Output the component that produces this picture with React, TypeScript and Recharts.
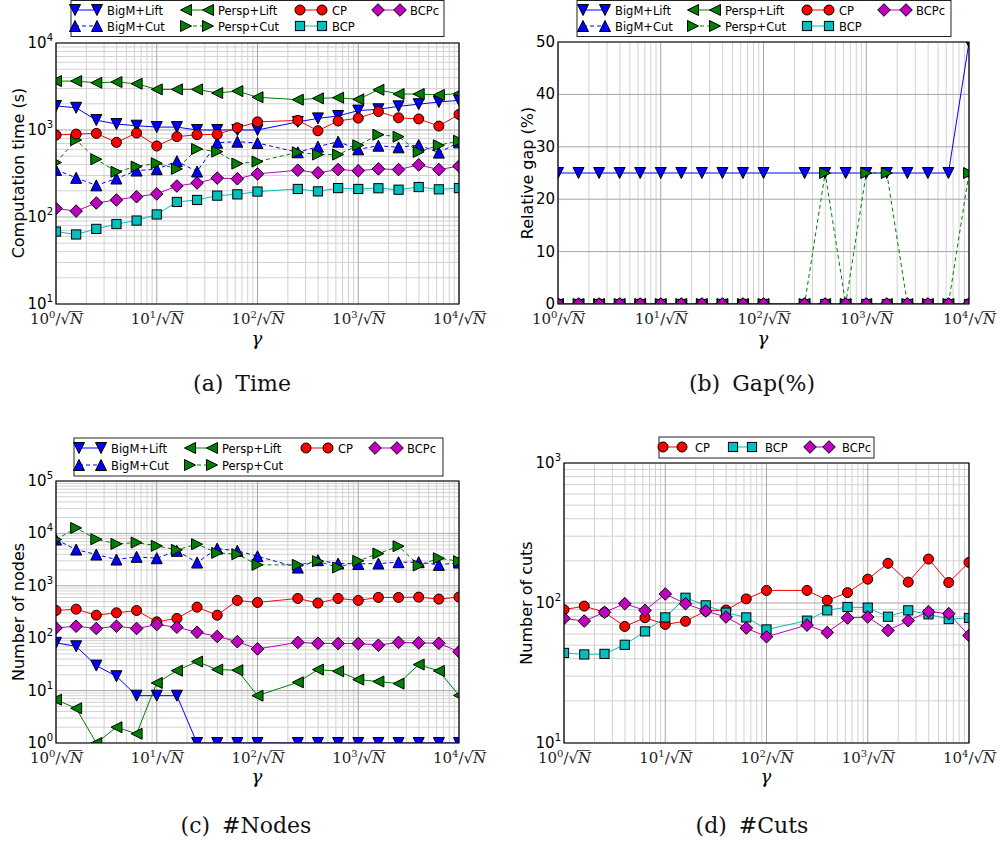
import React from "react";
import { LineChart, Line, XAxis, YAxis, ReferenceLine, ReferenceArea } from "recharts";

// gamma = 10^k / sqrt(N), k
const gammaExp = [0, 0.2, 0.4, 0.6, 0.8, 1.0, 1.2, 1.4, 1.6, 1.8, 2.0, 2.4, 2.6, 2.8, 3.0, 3.2, 3.4, 3.6, 3.8, 4.0];
const decadeTicks = [1, 10, 100, 1000, 10000];

// (a) computation time (s)
const timeBigMLift = [1890, 1800, 1300, 1170, 1120, 1080, 1080, 1000, 1000, 1000, 1000, 1240, 1360, 1450, 1670, 1730, 1870, 1980, 2100, 2190];
const timeBigMCut = [348, 282, 231, 277, 342, 354, 438, 333, 714, 734, 709, 554, 644, 734, 600, 660, 632, 673, 550, 721];
const timePerspLift = [3650, 3650, 3490, 3560, 3400, 2930, 2930, 2930, 2660, 2800, 2380, 2230, 2310, 2350, 2250, 2900, 2590, 2590, 2530, 2620];
const timePerspCut = [423, 767, 461, 331, 380, 415, 357, 605, 564, 411, 434, 554, 522, 522, 667, 883, 838, 560, 667, 753];
const timeCP = [875, 898, 914, 721, 922, 655, 838, 883, 890, 1060, 1240, 1290, 980, 1270, 1370, 1630, 1380, 1340, 1110, 1510];
const timeBCP = [68, 63, 73, 83, 91, 107, 149, 157, 176, 182, 196, 210, 197, 215, 210, 214, 206, 221, 208, 215];
const timeBCPc = [125, 117, 145, 157, 171, 184, 227, 246, 280, 275, 313, 345, 322, 351, 340, 357, 351, 397, 351, 384];

// (b) relative gap (%)
const gapBigMLift = [25, 25, 25, 25, 25, 25, 25, 25, 25, 25, 25, 25, 25, 25, 25, 25, 25, 25, 25, 50];
const gapBigMCut = [0, 0, 0, 0, 0, 0.1, 0.1, 0.1, 0.1, 0.1, 0.1, 0.1, 0.1, 0.1, 0.1, 0.1, 0.1, 0.1, 0.1, 0.1];
const gapPerspLift = [0, 0, 0, 0, 0, 0, 0, 0, 0, 0, 0, 0, 0, 0, 0, 0, 0, 0, 0, 0];
const gapPerspCut = [0, 0, 0, 0, 0, 0, 0, 0, 0, 0, 0, 0, 25, 0, 25, 25, 0, 0, 0, 25];
const gapCP = [0, 0, 0, 0, 0, 0, 0, 0, 0, 0, 0, 0, 0, 0, 0, 0, 0, 0, 0, 0];
const gapBCP = [0, 0, 0, 0, 0, 0, 0, 0, 0, 0, 0, 0, 0, 0, 0, 0, 0, 0, 0, 0];
const gapBCPc = [0, 0, 0, 0, 0, 0, 0, 0, 0, 0, 0, 0, 0, 0, 0, 0, 0, 0, 0, 0];

// (c) number of nodes
const nodesBigMLift = [81.5, 70, 30, 18.8, 8, 8, 8, 1, 1, 1, 1, 1, 1, 1, 1, 1, 1, 1, 1, 1];
const nodesBigMCut = [7630, 4920, 3950, 3170, 3570, 3360, 4640, 2780, 5140, 4640, 3670, 2230, 3080, 2660, 2620, 2660, 2820, 2820, 2510, 2780];
const nodesPerspLift = [6.7, 4.6, 1, 2.0, 1.5, 14, 24, 35.8, 25.2, 24.5, 8, 14.4, 25.2, 23.4, 16.2, 14.9, 13.6, 31.4, 23.7, 8.1];
const nodesPerspCut = [7630, 12700, 7740, 6310, 6690, 5780, 4850, 6220, 4250, 4010, 2510, 2510, 2950, 2230, 2990, 4130, 5700, 2440, 3360, 2950];
const nodesCP = [338, 358, 275, 305, 338, 205, 238, 391, 275, 525, 481, 574, 468, 574, 526, 600, 600, 608, 557, 608];
const nodesBCPc = [157, 169, 153, 169, 153, 182, 162, 130, 108, 86, 62.5, 83, 80, 79, 79, 73.5, 83, 81.5, 80, 55];

// (d) number of cuts
const cutsCP = [89.6, 95, 85.8, 68, 78.5, 70.3, 74, 87.7, 89, 107, 123, 123, 104.5, 118.6, 148, 192, 141, 206, 140, 195];
const cutsBCP = [44, 42.9, 43.3, 50.3, 62.7, 78.9, 109, 96.2, 85.3, 78.9, 64.7, 74.8, 88.6, 93.6, 92.6, 79.8, 88.6, 83, 76.8, 78.2];
const cutsBCPc = [77.6, 74.3, 85.8, 98.9, 88.6, 116, 98.9, 87.7, 79.4, 66.2, 57.4, 69.5, 61.6, 78.2, 79.4, 63.7, 74.8, 86.7, 83.9, 58.6];

const SERIES: Record<string, { name: string; color: string; marker: string; dash?: string }> = {
  bigMLift: { name: "BigM+Lift", color: "#0000ff", marker: "tdown" },
  bigMCut: { name: "BigM+Cut", color: "#0000ff", marker: "tup", dash: "4 3" },
  perspLift: { name: "Persp+Lift", color: "#008000", marker: "tleft" },
  perspCut: { name: "Persp+Cut", color: "#008000", marker: "tright", dash: "4 3" },
  cp: { name: "CP", color: "#ff0000", marker: "circle" },
  bcp: { name: "BCP", color: "#00bfbf", marker: "square" },
  bcpc: { name: "BCPc", color: "#bf00bf", marker: "diamond" },
};

const MAJOR = "#a6a6a6";
const MINOR = "#d2d2d2";
const SANS = "DejaVu Sans, sans-serif";
const SERIF = "DejaVu Serif, serif";

function buildRows(cols: Record<string, number[]>) {
  return gammaExp.map((e, i) => {
    const row: Record<string, number> = { x: Math.pow(10, e) };
    for (const k of Object.keys(cols)) row[k] = cols[k][i];
    return row;
  });
}

function minorTicks(lo: number, hi: number) {
  const out: number[] = [];
  for (let d = lo; d < hi; d *= 10) for (let m = 2; m <= 9; m++) out.push(d * m);
  return out;
}

function Marker({ shape, cx, cy, fill }: { shape: string; cx: number; cy: number; fill: string }) {
  const s = { fill, stroke: "#000", strokeWidth: 1 };
  const h = 5.5;
  switch (shape) {
    case "circle":
      return <circle cx={cx} cy={cy} r={5} {...s} />;
    case "square":
      return <rect x={cx - 4.6} y={cy - 4.6} width={9.2} height={9.2} {...s} />;
    case "diamond":
      return <path d={`M${cx},${cy - 6.3}L${cx + 6.3},${cy}L${cx},${cy + 6.3}L${cx - 6.3},${cy}Z`} {...s} />;
    case "tdown":
      return <path d={`M${cx - h},${cy - h}L${cx + h},${cy - h}L${cx},${cy + h}Z`} {...s} />;
    case "tup":
      return <path d={`M${cx - h},${cy + h}L${cx + h},${cy + h}L${cx},${cy - h}Z`} {...s} />;
    case "tleft":
      return <path d={`M${cx + h},${cy - h}L${cx + h},${cy + h}L${cx - h},${cy}Z`} {...s} />;
    default:
      return <path d={`M${cx - h},${cy - h}L${cx - h},${cy + h}L${cx + h},${cy}Z`} {...s} />;
  }
}

function GammaTick(props: any) {
  const { x, y, payload } = props;
  const e = Math.round(Math.log10(payload.value));
  const base = y + 16;
  return (
    <g>
      <text x={x - 26} y={base} fontFamily={SERIF} fontSize={15} fill="#222">
        10<tspan fontSize={10} dy={-6}>{e}</tspan>
        <tspan dy={6}>/√</tspan>
        <tspan fontStyle="italic">N</tspan>
      </text>
      <line x1={x + 13} x2={x + 26} y1={base - 12.5} y2={base - 12.5} stroke="#222" strokeWidth={0.8} />
    </g>
  );
}

function LogTick(props: any) {
  const { x, y, payload } = props;
  const e = Math.round(Math.log10(payload.value));
  return (
    <text x={x} y={y + 5} textAnchor="end" fontFamily={SANS} fontSize={15} fill="#000">
      10<tspan fontSize={10} dy={-7}>{e}</tspan>
    </text>
  );
}

function LinTick(props: any) {
  const { x, y, payload } = props;
  return (
    <text x={x} y={y + 5} textAnchor="end" fontFamily={SANS} fontSize={15} fill="#000">
      {payload.value}
    </text>
  );
}

interface PanelProps {
  left: number;
  top: number;
  width: number;
  height: number;
  margin: { top: number; right: number; bottom: number; left: number };
  log: boolean;
  yDomain: [number, number];
  yTicks: number[];
  cols: Record<string, number[]>;
}

function Panel({ left, top, width, height, margin, log, yDomain, yTicks, cols }: PanelProps) {
  const data = buildRows(cols);
  const xMinor = minorTicks(1, 10000);
  const yMinor = log ? minorTicks(yDomain[0], yDomain[1]) : [];
  return (
    <div style={{ position: "absolute", left, top }}>
      <LineChart width={width} height={height} data={data} margin={margin}>
        {xMinor.map((v) => (
          <ReferenceLine key={"xm" + v} x={v} stroke={MINOR} strokeWidth={1} zIndex={-100} />
        ))}
        {yMinor.map((v) => (
          <ReferenceLine key={"ym" + v} y={v} stroke={MINOR} strokeWidth={1} zIndex={-100} />
        ))}
        {decadeTicks.map((v) => (
          <ReferenceLine key={"xM" + v} x={v} stroke={MAJOR} strokeWidth={1} zIndex={-90} />
        ))}
        {yTicks.map((v) => (
          <ReferenceLine key={"yM" + v} y={v} stroke={MAJOR} strokeWidth={1} zIndex={-90} />
        ))}
        <XAxis
          dataKey="x"
          type="number"
          scale="log"
          domain={[1, 10000]}
          ticks={decadeTicks}
          interval={0}
          allowDataOverflow
          axisLine={false}
          tickLine={false}
          tickSize={0}
          tickMargin={4}
          height={30}
          tick={<GammaTick />}
        />
        <YAxis
          type="number"
          scale={log ? "log" : "linear"}
          domain={yDomain}
          ticks={yTicks}
          interval={0}
          allowDataOverflow
          axisLine={false}
          tickLine={false}
          tickSize={0}
          tickMargin={3}
          width={40}
          tick={log ? <LogTick /> : <LinTick />}
        />
        {Object.keys(cols).map((k) => {
          const s = SERIES[k];
          return (
            <Line
              key={k}
              dataKey={k}
              stroke={s.color}
              strokeWidth={1}
              strokeDasharray={s.dash}
              isAnimationActive={false}
              activeDot={false}
              dot={(p: any) => <Marker key={k + p.index} shape={s.marker} cx={p.cx} cy={p.cy} fill={s.color} />}
            />
          );
        })}
        <ReferenceArea x1={1} x2={10000} y1={yDomain[0]} y2={yDomain[1]} fill="none" stroke="#000" strokeWidth={1.2} ifOverflow="visible" zIndex={900} />
      </LineChart>
    </div>
  );
}

interface LegendProps {
  box: [number, number, number, number];
  cols: number[];
  rows: number[];
  items: string[][];
  sample: number;
}

function LegendBox({ box, cols, rows, items, sample }: LegendProps) {
  const [bx, by, bw, bh] = box;
  return (
    <g>
      <rect x={bx} y={by} width={bw} height={bh} fill="#fff" stroke="#222" strokeWidth={1} />
      {items.map((col, ci) =>
        col.map((k, ri) => {
          const s = SERIES[k];
          const x = cols[ci];
          const y = rows[ri];
          return (
            <g key={k}>
              <line x1={x} x2={x + sample} y1={y} y2={y} stroke={s.color} strokeWidth={1} strokeDasharray={s.dash} />
              <Marker shape={s.marker} cx={x} cy={y} fill={s.color} />
              <Marker shape={s.marker} cx={x + sample} cy={y} fill={s.color} />
              <text x={x + 32} y={y + 4.5} fontFamily={SANS} fontSize={11.5} fill="#000">
                {s.name}
              </text>
            </g>
          );
        })
      )}
    </g>
  );
}

function YTitle({ x, y, text }: { x: number; y: number; text: string }) {
  return (
    <text x={x} y={y} transform={`rotate(-90 ${x} ${y})`} textAnchor="middle" fontFamily={SANS} fontSize={16} fill="#000">
      {text}
    </text>
  );
}

function Caption({ x, y, tag, text }: { x: number; y: number; tag: string; text: string }) {
  return (
    <text x={x} y={y} textAnchor="middle" fontFamily={SERIF} fontSize={22} fill="#111">
      {tag}
      <tspan dx={12}>{text}</tspan>
    </text>
  );
}

export default function App() {
  const allSeven = [["bigMLift", "bigMCut"], ["perspLift", "perspCut"], ["cp", "bcp"], ["bcpc"]];
  return (
    <div style={{ position: "absolute", left: 0, top: 0, width: 1000, height: 845, background: "#fff" }}>
      <Panel
        left={0}
        top={0}
        width={500}
        height={370}
        margin={{ top: 43, right: 41, bottom: 36, left: 16 }}
        log
        yDomain={[10, 10000]}
        yTicks={[10, 100, 1000, 10000]}
        cols={{ bigMLift: timeBigMLift, bigMCut: timeBigMCut, perspLift: timePerspLift, perspCut: timePerspCut, cp: timeCP, bcp: timeBCP, bcpc: timeBCPc }}
      />
      <Panel
        left={500}
        top={0}
        width={500}
        height={370}
        margin={{ top: 42, right: 31, bottom: 36, left: 18 }}
        log={false}
        yDomain={[0, 50]}
        yTicks={[0, 10, 20, 30, 40, 50]}
        cols={{ bigMLift: gapBigMLift, bigMCut: gapBigMCut, perspLift: gapPerspLift, perspCut: gapPerspCut, cp: gapCP, bcp: gapBCP, bcpc: gapBCPc }}
      />
      <Panel
        left={0}
        top={430}
        width={500}
        height={370}
        margin={{ top: 51, right: 41, bottom: 27, left: 16 }}
        log
        yDomain={[1, 100000]}
        yTicks={[1, 10, 100, 1000, 10000, 100000]}
        cols={{ bigMLift: nodesBigMLift, bigMCut: nodesBigMCut, perspLift: nodesPerspLift, perspCut: nodesPerspCut, cp: nodesCP, bcpc: nodesBCPc }}
      />
      <Panel
        left={500}
        top={430}
        width={500}
        height={370}
        margin={{ top: 33, right: 31, bottom: 27, left: 24 }}
        log
        yDomain={[10, 1000]}
        yTicks={[10, 100, 1000]}
        cols={{ cp: cutsCP, bcp: cutsBCP, bcpc: cutsBCPc }}
      />
      <svg width={1000} height={845} style={{ position: "absolute", left: 0, top: 0, pointerEvents: "none" }}>
        <LegendBox box={[71, 0.5, 373, 36]} cols={[75, 186, 300, 378]} rows={[10, 26]} items={allSeven} sample={22} />
        <LegendBox box={[577, 0.5, 374, 36]} cols={[583, 693, 807, 884]} rows={[10, 26]} items={allSeven} sample={22} />
        <LegendBox
          box={[74, 438, 369, 38]}
          cols={[79, 190, 306, 375]}
          rows={[448, 465]}
          items={[["bigMLift", "bigMCut"], ["perspLift", "perspCut"], ["cp"], ["bcpc"]]}
          sample={22}
        />
        <LegendBox box={[659, 437, 215, 21]} cols={[663, 733, 810]} rows={[447]} items={[["cp"], ["bcp"], ["bcpc"]]} sample={19} />

        <YTitle x={24} y={173} text="Computation time (s)" />
        <YTitle x={533} y={173} text="Relative gap (%)" />
        <YTitle x={24} y={612} text="Number of nodes" />
        <YTitle x={532} y={603} text="Number of cuts" />

        {[257, 763].map((x) => (
          <text key={"g1" + x} x={x} y={345} textAnchor="middle" fontFamily={SERIF} fontStyle="italic" fontSize={18}>
            γ
          </text>
        ))}
        {[257, 766].map((x) => (
          <text key={"g2" + x} x={x} y={783} textAnchor="middle" fontFamily={SERIF} fontStyle="italic" fontSize={18}>
            γ
          </text>
        ))}

        <Caption x={242} y={391} tag="(a)" text="Time" />
        <Caption x={752} y={391} tag="(b)" text="Gap(%)" />
        <Caption x={246} y={833} tag="(c)" text="#Nodes" />
        <Caption x={752} y={833} tag="(d)" text="#Cuts" />
      </svg>
    </div>
  );
}
